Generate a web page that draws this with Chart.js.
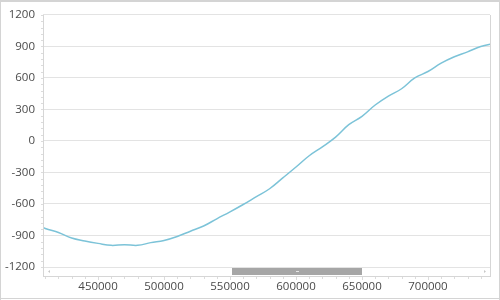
<!DOCTYPE html>
<html>
<head>
<meta charset="utf-8">
<script src="https://cdn.jsdelivr.net/npm/chart.js@4.4.1/dist/chart.umd.min.js"></script>
<style>
  html, body { margin: 0; padding: 0; background: #ffffff; }
  #wrap { position: absolute; left: 0; top: 0; width: 500px; height: 300px; }
</style>
</head>
<body>
<div id="wrap"><canvas id="c" width="500" height="300"></canvas></div>
<script>
// ---- data ----
const xValues = [405000, 410000, 420000, 430000, 440000, 450000, 460000, 470000, 480000, 490000,
                 500000, 510000, 520000, 530000, 540000, 550000, 560000, 570000, 580000, 590000,
                 600000, 610000, 620000, 630000, 640000, 650000, 660000, 670000, 680000, 690000,
                 700000, 710000, 720000, 730000, 740000, 750000];
const yValues = [-797, -833, -871, -924, -952, -975, -994, -987, -994, -968,
                 -947, -909, -859, -810, -741, -675, -605, -530, -455, -352,
                 -248, -141, -56, 37, 155, 234, 342, 427, 497, 600,
                 661, 741, 802, 848, 900, 928];
const xTickValues = [450000, 500000, 550000, 600000, 650000, 700000];
const yTickValues = [-1200, -900, -600, -300, 0, 300, 600, 900, 1200];
const xRange = [408300, 747000];
const yRange = [-1200, 1200];

const points = xValues.map((x, i) => ({ x: x, y: yValues[i] }));

const FONT = '"Segoe UI", "Open Sans", "Noto Sans", sans-serif';
const TEXT = '#4a4a4a';
const GRID = '#e3e3e3';
const FRAME = '#d4d4d4';

const decor = {
  id: 'decor',
  afterDraw(chart) {
    const ctx = chart.ctx;
    const a = chart.chartArea;
    const xs = chart.scales.x, ys = chart.scales.y;
    const L = Math.round(a.left), R = Math.round(a.right), B = Math.round(a.bottom), T = Math.round(a.top);
    const axisY = B + 9;
    ctx.save();
    // outer frame
    ctx.fillStyle = FRAME;
    ctx.fillRect(0, 0, 500, 2);
    ctx.fillRect(0, 0, 1, 300);
    ctx.fillRect(499, 0, 1, 300);
    ctx.fillRect(0, 298, 500, 1);
    // scrollbar
    ctx.fillStyle = '#ffffff';
    ctx.fillRect(L + 1, B + 1, R - L - 1, axisY - B - 1);
    const tL = L + (R - L) * 0.423, tR = L + (R - L) * 0.714;
    ctx.fillStyle = '#a6a6a6';
    ctx.fillRect(Math.round(tL), B + 1, Math.round(tR - tL), 7);
    ctx.fillStyle = '#e6e6e6';
    ctx.fillRect(Math.round((tL + tR) / 2) - 1, B + 4, 3, 1);
    // arrows
    ctx.fillStyle = '#c8c8c8';
    ctx.beginPath();
    ctx.moveTo(L + 5, B + 4.5); ctx.lineTo(L + 7, B + 3); ctx.lineTo(L + 7, B + 6); ctx.closePath(); ctx.fill();
    ctx.beginPath();
    ctx.moveTo(R - 4, B + 4.5); ctx.lineTo(R - 6, B + 3); ctx.lineTo(R - 6, B + 6); ctx.closePath(); ctx.fill();
    // axis lines
    ctx.strokeStyle = '#d6d6d6';
    ctx.lineWidth = 1;
    ctx.beginPath();
    ctx.moveTo(L + 0.5, T); ctx.lineTo(L + 0.5, axisY + 1);
    ctx.moveTo(R + 0.5, T); ctx.lineTo(R + 0.5, axisY + 1);
    ctx.moveTo(L, axisY + 0.5); ctx.lineTo(R + 1, axisY + 0.5);
    ctx.stroke();
    // x minor / major ticks
    ctx.strokeStyle = '#dcdcdc';
    ctx.beginPath();
    for (let v = 410000; v <= 740000; v += 10000) {
      const px = Math.round(xs.getPixelForValue(v)) + 0.5;
      const len = (v % 50000 === 0) ? 3 : 2;
      ctx.moveTo(px, axisY + 1); ctx.lineTo(px, axisY + 1 + len);
    }
    // y minor ticks
    for (let v = yRange[0]; v <= yRange[1]; v += 60) {
      const py = Math.round(ys.getPixelForValue(v)) + 0.5;
      ctx.moveTo(L - 2, py); ctx.lineTo(L, py);
    }
    ctx.stroke();
    ctx.restore();
  }
};

new Chart(document.getElementById('c'), {
  type: 'line',
  data: {
    datasets: [{
      data: points,
      borderColor: '#7cc3d8',
      borderWidth: 1.5,
      pointRadius: 0,
      fill: false,
      tension: 0.4
    }]
  },
  options: {
    responsive: false,
    animation: false,
    events: [],
    layout: { padding: { top: 12, right: 10, left: 0, bottom: 0 } },
    plugins: { legend: { display: false }, tooltip: { enabled: false } },
    scales: {
      x: {
        type: 'linear',
        min: xRange[0],
        max: xRange[1],
        afterBuildTicks: (s) => { s.ticks = xTickValues.map(v => ({ value: v })); },
        afterFit: (s) => { s.height = 33; },
        grid: { display: false, drawTicks: false },
        border: { display: false },
        ticks: {
          autoSkip: false, maxRotation: 0, padding: 13,
          color: TEXT, font: { family: FONT, size: 11.5 },
          callback: (v) => String(v)
        }
      },
      y: {
        type: 'linear',
        min: yRange[0],
        max: yRange[1],
        afterBuildTicks: (s) => { s.ticks = yTickValues.map(v => ({ value: v })); },
        afterFit: (s) => { s.width = 43; },
        grid: { color: GRID, drawTicks: false },
        border: { display: false },
        ticks: {
          padding: 8,
          color: TEXT, font: { family: FONT, size: 11.5 },
          callback: (v) => String(v)
        }
      }
    }
  },
  plugins: [decor]
});
</script>
</body>
</html>
